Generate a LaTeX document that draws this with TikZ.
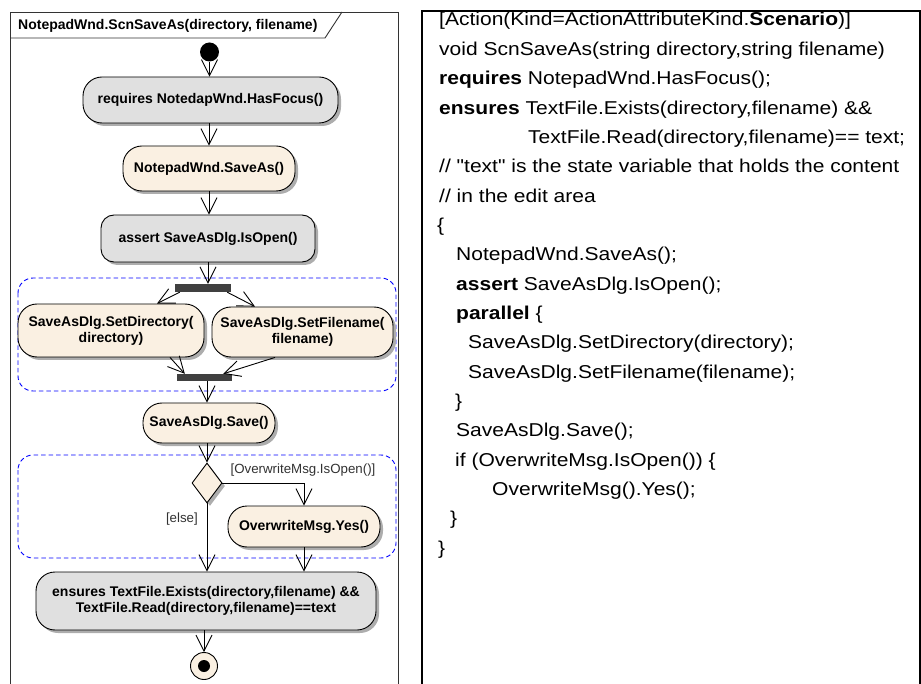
\documentclass[tikz,border=0pt]{standalone}
\usepackage{fontspec}
\setmainfont{Liberation Sans}
% code listing: slightly wide Arial-metric face, straight quotes kept
\newfontfamily\codefont[FakeStretch=1.13, Ligatures=TeXOff]{Liberation Sans}
\usetikzlibrary{arrows.meta,shapes.geometric,shadows}

\definecolor{actfill}{RGB}{250,240,226}
\definecolor{condfill}{RGB}{224,224,224}
\definecolor{barfill}{RGB}{64,64,64}
\definecolor{regionblue}{RGB}{0,0,255}
\definecolor{guardtext}{RGB}{50,50,50}

\tikzset{
  every node/.style={inner sep=0pt},
  boxshadow/.style={general shadow={fill=black!32, shadow xshift=3pt, shadow yshift=-3pt}},
  actbox/.style={draw, line width=0.9pt, fill=actfill, rounded corners=19pt, boxshadow,
    align=center, font=\fontsize{14}{16}\selectfont\bfseries},
  condbox/.style={actbox, fill=condfill},
  bar/.style={fill=barfill, draw=none},
  flow/.style={line width=0.9pt, -{Straight Barb[length=16pt, width=16pt, line width=0.9pt]}},
  region/.style={draw=regionblue, line width=0.9pt, dash pattern=on 4.5pt off 3pt, rounded corners=15pt},
  guard/.style={text=guardtext, font=\fontsize{13.3}{15}\selectfont},
  codeline/.style={anchor=base west, font=\codefont\fontsize{18.6}{22}\selectfont},
}

\begin{document}
\begin{tikzpicture}[x=1pt, y=-1pt]
\useasboundingbox (0,0) rectangle (921,684);

% diagram frame and its title tab
\draw[line width=0.9pt, draw=black!80] (10,684) -- (10,12) -- (398,12) -- (398,684);
\draw[line width=0.9pt, draw=black!80] (10,38) -- (325,38) -- (342,12);
\node[anchor=west, font=\fontsize{14}{16}\selectfont\bfseries] (title) at (18,25.5)
  {NotepadWnd.ScnSaveAs(directory, filename)};

% interruptible regions
\draw[region] (18,278) rectangle (396,391);
\draw[region] (18,455) rectangle (396,558);

% start and actions
\node[circle, fill=black, minimum size=19pt] (init) at (209.5,52) {};
\node[condbox, minimum width=255pt, minimum height=46pt] (req) at (210.5,100)
  {requires NotedapWnd.HasFocus()};
\node[actbox, minimum width=172pt, minimum height=45pt] (saveas) at (209,168.5)
  {NotepadWnd.SaveAs()};
\node[condbox, rounded corners=13pt, minimum width=214pt, minimum height=47pt] (assert) at (208,238.5)
  {assert SaveAsDlg.IsOpen()};

% parallel section
\node[bar, minimum width=56pt, minimum height=8pt] (fork) at (203,288) {};
\node[actbox, minimum width=186pt, minimum height=53pt] (setdir) at (111,330.5)
  {SaveAsDlg.SetDirectory(\\directory)};
\node[actbox, minimum width=181pt, minimum height=50pt] (setfile) at (302.5,332)
  {SaveAsDlg.SetFilename(\\filename)};
\node[bar, minimum width=55pt, minimum height=7pt] (join) at (204.5,377.5) {};

\node[actbox, minimum width=132pt, minimum height=40pt] (save) at (209,423)
  {SaveAsDlg.Save()};

% decision
\node[diamond, draw, line width=0.9pt, fill=actfill, boxshadow,
      minimum width=30pt, minimum height=40pt] (dec) at (207,483) {};
\node[actbox, minimum width=152pt, minimum height=41pt] (yes) at (304,526.5)
  {OverwriteMsg.Yes()};

\node[condbox, minimum width=340pt, minimum height=58pt] (ens) at (206,601)
  {ensures TextFile.Exists(directory,filename) \&\&\\TextFile.Read(directory,filename)==text};

% final node
\node[circle, draw, line width=0.9pt, fill=actfill, minimum size=27pt] (final) at (204,666) {};
\node[circle, fill=black, minimum size=12pt] (finaldot) at (final.center) {};

% guards
\node[guard] (gopen) at (303,470) {[OverwriteMsg.IsOpen()]};
\node[guard, anchor=east] (gelse) at (198,519) {[else]};

% control flows
\draw[flow] (init.south) -- (init.south |- req.north);
\draw[flow] (req.south -| saveas.north) -- (saveas.north);
\draw[flow] (saveas.south) -- (saveas.south |- assert.north);
\draw[flow] (assert.south) -- (assert.south |- fork.north);
\draw[flow] ([xshift=5pt]fork.south west) -- ([xshift=46pt]setdir.north);
\draw[flow] ([xshift=-4pt]fork.south east) -- ([xshift=-47.5pt]setfile.north);
\draw[flow] ([xshift=59pt]setdir.south) -- ([xshift=8pt]join.north west);
\draw[flow] ([xshift=-27.5pt]setfile.south) -- ([xshift=-9pt]join.north east);
\draw[flow] ([xshift=2.5pt]join.south) -- ([xshift=2.5pt]join.south |- save.north);
\draw[flow] (dec.north |- save.south) -- (dec.north);
\draw[flow] (dec.east) -| (yes.north);
\draw[flow] (dec.south) -- (dec.south |- ens.north);
\draw[flow] (yes.south) -- (yes.south |- ens.north);
\draw[flow] (final.north |- ens.south) -- (final.north);

% code panel
\draw[line width=1.6pt] (422,684) -- (422,10.8) -- (920,10.8) -- (920,684);
\node[codeline] (c1) at (439,26) {[Action(Kind=ActionAttributeKind.\textbf{Scenario})]};
\node[codeline] (c2) at (439,55.35) {void ScnSaveAs(string directory,string filename)};
\node[codeline] (c3) at (439,84.7) {\textbf{requires} NotepadWnd.HasFocus();};
\node[codeline] (c4) at (439,114.05) {\textbf{ensures} TextFile.Exists(directory,filename) \&\&};
\node[codeline] (c5) at (528,143.4) {TextFile.Read(directory,filename)== text;};
\node[codeline] (c6) at (439,172.75) {// "text" is the state variable that holds the content};
\node[codeline] (c7) at (439,202.1) {// in the edit area};
\node[codeline] (c8) at (437,231.45) {\{};
\node[codeline] (c9) at (456,260.8) {NotepadWnd.SaveAs();};
\node[codeline] (c10) at (456,290.15) {\textbf{assert} SaveAsDlg.IsOpen();};
\node[codeline] (c11) at (456,319.5) {\textbf{parallel} \{};
\node[codeline] (c12) at (468,348.85) {SaveAsDlg.SetDirectory(directory);};
\node[codeline] (c13) at (468,378.2) {SaveAsDlg.SetFilename(filename);};
\node[codeline] (c14) at (455,407.55) {\}};
\node[codeline] (c15) at (456,436.9) {SaveAsDlg.Save();};
\node[codeline] (c16) at (455,466.25) {if (OverwriteMsg.IsOpen()) \{};
\node[codeline] (c17) at (492,495.6) {OverwriteMsg().Yes();};
\node[codeline] (c18) at (450,524.95) {\}};
\node[codeline] (c19) at (438,554.3) {\}};
\end{tikzpicture}
\end{document}
